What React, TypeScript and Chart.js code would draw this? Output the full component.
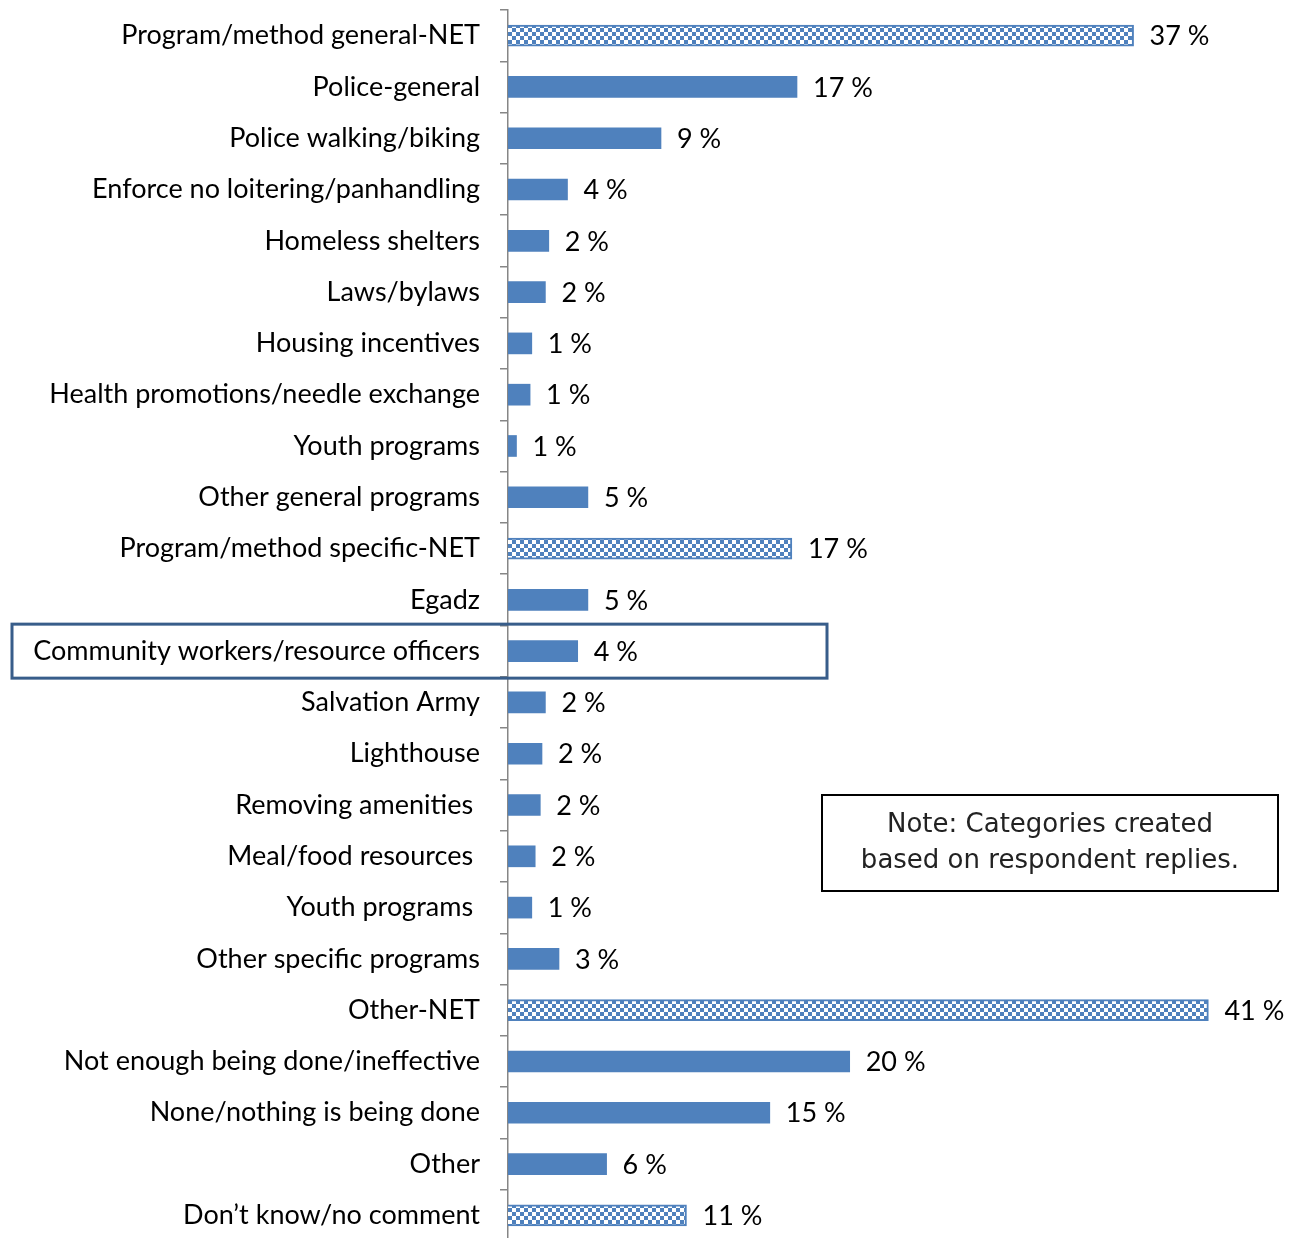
import React, { useEffect, useRef } from "react";
import { Chart, registerables } from "chart.js";

Chart.register(...registerables);

const categories: string[] = [
  "Program/method general-NET",
  "Police-general",
  "Police walking/biking",
  "Enforce no loitering/panhandling",
  "Homeless shelters",
  "Laws/bylaws",
  "Housing incentives",
  "Health promotions/needle exchange",
  "Youth programs",
  "Other general programs",
  "Program/method specific-NET",
  "Egadz",
  "Community workers/resource officers",
  "Salvation Army",
  "Lighthouse",
  "Removing amenities ",
  "Meal/food resources ",
  "Youth programs ",
  "Other specific programs",
  "Other-NET",
  "Not enough being done/ineffective",
  "None/nothing is being done",
  "Other",
  "Don’t know/no comment",
];

const values: number[] = [
  36.8, 17.0, 9.0, 3.5, 2.4, 2.2, 1.4, 1.3, 0.5, 4.7,
  16.7, 4.7, 4.1, 2.2, 2.0, 1.9, 1.6, 1.4, 3.0,
  41.2, 20.1, 15.4, 5.8, 10.5,
];

const valueLabels: string[] = [
  "37 %", "17 %", "9 %", "4 %", "2 %", "2 %", "1 %", "1 %", "1 %", "5 %",
  "17 %", "5 %", "4 %", "2 %", "2 %", "2 %", "2 %", "1 %", "3 %",
  "41 %", "20 %", "15 %", "6 %", "11 %",
];

const netFlags: boolean[] = [
  true, false, false, false, false, false, false, false, false, false,
  true, false, false, false, false, false, false, false, false,
  true, false, false, false, true,
];

const noteLines: string[] = ["Note: Categories created", "based on respondent replies."];
const highlightedCategory = "Community workers/resource officers";

const BLUE = "#4F81BD";
const FAMILY = "Lato, 'Liberation Sans', sans-serif";
const LABEL_FONT = `27px ${FAMILY}`;

function makePattern(): CanvasPattern | string {
  const c = document.createElement("canvas");
  c.width = 8;
  c.height = 8;
  const ctx = c.getContext("2d");
  if (!ctx) return BLUE;
  ctx.fillStyle = BLUE;
  ctx.fillRect(0, 0, 8, 8);
  ctx.fillStyle = "#FFFFFF";
  ctx.fillRect(0, 0, 4, 4);
  ctx.fillRect(4, 4, 4, 4);
  const p = ctx.createPattern(c, "repeat");
  return p || BLUE;
}

const overlayPlugin = {
  id: "overlay",
  afterDatasetsDraw(chart: any) {
    const ctx = chart.ctx as CanvasRenderingContext2D;
    const meta = chart.getDatasetMeta(0);
    ctx.save();
    ctx.font = LABEL_FONT;
    ctx.fillStyle = "#000";
    ctx.textAlign = "left";
    ctx.textBaseline = "middle";
    meta.data.forEach((bar: any, i: number) => {
      ctx.fillText(valueLabels[i], bar.x + 16, bar.y + 1);
    });

    // highlight box
    const yScale = chart.scales.y;
    const hi = categories.indexOf(highlightedCategory);
    const cy = yScale.getPixelForValue(hi);
    ctx.strokeStyle = "#385D8A";
    ctx.lineWidth = 3;
    ctx.strokeRect(12, cy - 27, 815, 54);

    // note box
    ctx.strokeStyle = "#000";
    ctx.lineWidth = 2;
    ctx.strokeRect(822, 795, 456, 96);
    ctx.font = "26px 'DejaVu Sans', sans-serif";
    ctx.fillStyle = "#222";
    ctx.textAlign = "center";
    ctx.fillText(noteLines[0], 1050, 825);
    ctx.fillText(noteLines[1], 1050, 861);
    ctx.restore();
  },
};

export default function App() {
  const ref = useRef<HTMLCanvasElement | null>(null);

  useEffect(() => {
    if (!ref.current) return;
    const pattern = makePattern();
    const chart = new Chart(ref.current, {
      type: "bar",
      data: {
        labels: categories,
        datasets: [
          {
            data: values,
            backgroundColor: netFlags.map((n) => (n ? pattern : BLUE)) as any,
            borderColor: BLUE,
            borderWidth: netFlags.map((n) => (n ? 2 : 0)),
            barThickness: 21,
          },
        ],
      },
      options: {
        indexAxis: "y",
        animation: false,
        responsive: false,
        maintainAspectRatio: false,
        layout: { padding: { top: 10, right: 20, bottom: 0, left: 0 } },
        plugins: {
          legend: { display: false },
          tooltip: { enabled: false },
        },
        scales: {
          x: {
            display: false,
            min: 0,
            max: 45,
          },
          y: {
            afterFit(scale: any) {
              scale.width = 508;
              scale.paddingTop = 0;
              scale.paddingBottom = 0;
            },
            border: { display: true, color: "#868686", width: 1.5 },
            grid: {
              offset: true,
              drawOnChartArea: false,
              drawTicks: true,
              tickLength: 8,
              color: "#868686",
              lineWidth: 1.5,
            },
            ticks: {
              padding: 20,
              color: "#000",
              font: { family: FAMILY, size: 27 },
              autoSkip: false,
            },
          },
        },
      },
      plugins: [overlayPlugin],
    });
    return () => chart.destroy();
  }, []);

  return (
    <div style={{ position: "absolute", left: 0, top: 0, width: 1293, height: 1238, overflow: "hidden", background: "#fff" }}>
      <canvas ref={ref} width={1293} height={1241} style={{ display: "block" }} />
    </div>
  );
}
